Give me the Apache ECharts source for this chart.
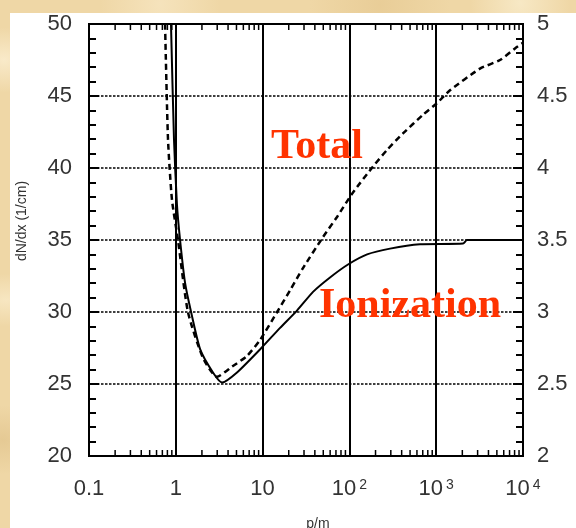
<!DOCTYPE html>
<html>
<head>
<meta charset="utf-8">
<script src="https://cdn.jsdelivr.net/npm/echarts@6/dist/echarts.min.js"></script>
<style>
  html, body { margin: 0; padding: 0; }
  body {
    width: 576px; height: 528px; overflow: hidden; position: relative;
    background-color: #efd7a6;
    background-image:
      radial-gradient(ellipse at 4px 60px, rgba(250,236,205,0.9) 0, rgba(250,236,205,0) 40px),
      radial-gradient(ellipse at 6px 300px, rgba(248,232,196,0.9) 0, rgba(248,232,196,0) 50px),
      radial-gradient(ellipse at 3px 440px, rgba(228,200,146,0.9) 0, rgba(228,200,146,0) 45px),
      radial-gradient(ellipse at 160px 4px, rgba(246,228,190,0.9) 0, rgba(246,228,190,0) 60px),
      radial-gradient(ellipse at 380px 5px, rgba(232,204,150,0.9) 0, rgba(232,204,150,0) 70px),
      radial-gradient(ellipse at 520px 3px, rgba(248,234,200,0.9) 0, rgba(248,234,200,0) 50px);
  }
  #paper { position: absolute; left: 10px; top: 13px; right: 0; bottom: 0; background: #ffffff; }
  #chart { position: absolute; left: 0; top: 0; width: 576px; height: 528px; }
</style>
</head>
<body>
<div id="paper"></div>
<div id="chart"></div>
<script>
// Energy-loss curves, dN/dx versus p/m (log scale)
const ionizationP    = [0.88, 0.953, 1.03, 1.12, 1.28, 1.50, 1.91, 2.68, 3.41, 5.07, 9.33, 15.9, 24.9, 38.1, 59.8, 96.4, 160, 294, 650, 2040, 2264, 10000];
const ionizationDNdx = [50, 42, 37.5, 35, 32, 30, 27.4, 25.8, 25.1, 25.8, 27.4, 28.9, 30.1, 31.4, 32.4, 33.3, 34.0, 34.4, 34.7, 34.75, 35.0, 35.0];

const totalP    = [0.752, 0.813, 0.903, 1.06, 1.38, 2.06, 2.98, 4.44, 6.61, 9.33, 14.7, 20.7, 29.2, 49.6, 72.0, 110, 187, 271, 414, 705, 1020, 1442, 3196, 5433, 8090, 10000];
const totalDNdx = [50, 42, 37.8, 35, 30, 26.8, 25.5, 26.2, 26.95, 28.05, 30.0, 31.5, 33.05, 35.2, 36.6, 38.3, 40.1, 41.25, 42.4, 43.7, 44.5, 45.4, 46.9, 47.5, 48.3, 48.7];

const xTickLabels = ['0.1', '1', '10', '10{s|2}', '10{s|3}', '10{s|4}'];
const decades = [0.1, 1, 10, 100, 1000];
const minorMultipliers = [2, 3, 4, 5, 6, 7, 8, 9];

const minorTickValues = [];
decades.forEach(d => minorMultipliers.forEach(k => minorTickValues.push(d * k)));

const zip = (xs, ys) => xs.map((x, i) => [x, ys[i]]);

const labelFont = '"Liberation Sans", Arial, Helvetica, sans-serif';
const labelColor = '#333';
const noteFont = '"Liberation Serif", "Times New Roman", serif';

const chart = echarts.init(document.getElementById('chart'), null, { renderer: 'canvas' });

chart.setOption({
  animation: false,
  backgroundColor: 'transparent',
  grid: {
    left: 89, right: 53, top: 24, bottom: 72,
    show: true, borderColor: '#000', borderWidth: 2, backgroundColor: 'transparent'
  },
  xAxis: {
    type: 'log', logBase: 10, min: 0.1, max: 10000, splitNumber: 5,
    axisLine: { show: true, lineStyle: { color: '#000', width: 2 } },
    axisTick: { show: false },
    splitLine: { show: true, lineStyle: { color: '#000', width: 2, type: 'solid' } },
    axisLabel: {
      margin: 22, fontSize: 22, color: labelColor, fontFamily: labelFont,
      formatter: v => xTickLabels[Math.round(Math.log10(v)) + 1],
      rich: {
        s: { fontSize: 14, color: labelColor, fontFamily: labelFont, verticalAlign: 'top', padding: [0, 0, 0, 3] }
      }
    }
  },
  yAxis: [
    {
      type: 'value', min: 20, max: 50, interval: 5, position: 'left',
      axisLine: { show: true, lineStyle: { color: '#000', width: 2 } },
      axisTick: { show: true, inside: true, length: 10, lineStyle: { color: '#000', width: 2 } },
      minorTick: { show: true, splitNumber: 5, length: 7, lineStyle: { color: '#000', width: 2 } },
      splitLine: { show: true, lineStyle: { color: '#000', width: 1.5, type: [2.5, 1.5] } },
      axisLabel: { margin: 17, fontSize: 22, color: labelColor, fontFamily: labelFont }
    },
    {
      type: 'value', min: 2, max: 5, interval: 0.5, position: 'right',
      axisLine: { show: true, lineStyle: { color: '#000', width: 2 } },
      axisTick: { show: true, inside: true, length: 10, lineStyle: { color: '#000', width: 2 } },
      minorTick: { show: true, splitNumber: 5, length: 7, lineStyle: { color: '#000', width: 2 } },
      splitLine: { show: false },
      axisLabel: { margin: 14, fontSize: 22, color: labelColor, fontFamily: labelFont }
    }
  ],
  graphic: [
    {
      type: 'text', x: 22, y: 221, rotation: Math.PI / 2,
      style: { text: 'dN/dx (1/cm)', fontSize: 14, fontFamily: labelFont, fill: labelColor, align: 'center', verticalAlign: 'middle' }
    },
    {
      type: 'text', x: 318, y: 524,
      style: { text: 'p/m', fontSize: 14, fontFamily: labelFont, fill: labelColor, align: 'center', verticalAlign: 'middle' }
    },
    {
      type: 'text', x: 271, y: 147, z: 100,
      style: { text: 'Total', fontSize: 42, fontWeight: 'bold', fontFamily: noteFont, fill: '#ff3300', align: 'left', verticalAlign: 'middle' }
    },
    {
      type: 'text', x: 319, y: 306, z: 100,
      style: { text: 'Ionization', fontSize: 42, fontWeight: 'bold', fontFamily: noteFont, fill: '#ff3300', align: 'left', verticalAlign: 'middle' }
    }
  ],
  series: [
    {
      name: 'Log minor ticks',
      type: 'custom',
      data: minorTickValues.map(v => [v, 20]),
      silent: true,
      clip: false,
      renderItem: (params, api) => {
        const v = api.value(0);
        const b = api.coord([v, 20]);
        const t = api.coord([v, 50]);
        const st = { stroke: '#000', lineWidth: 1.5 };
        return {
          type: 'group',
          children: [
            { type: 'line', shape: { x1: b[0], y1: b[1], x2: b[0], y2: b[1] - 6 }, style: st },
            { type: 'line', shape: { x1: t[0], y1: t[1], x2: t[0], y2: t[1] + 6 }, style: st }
          ]
        };
      }
    },
    {
      name: 'Ionization',
      type: 'line',
      data: zip(ionizationP, ionizationDNdx),
      showSymbol: false, smooth: 0.2, clip: true,
      lineStyle: { color: '#000', width: 2, type: 'solid' }
    },
    {
      name: 'Total',
      type: 'line',
      data: zip(totalP, totalDNdx),
      showSymbol: false, smooth: 0.2, clip: true,
      lineStyle: { color: '#000', width: 2.5, type: [6, 4] }
    }
  ]
});
</script>
</body>
</html>
